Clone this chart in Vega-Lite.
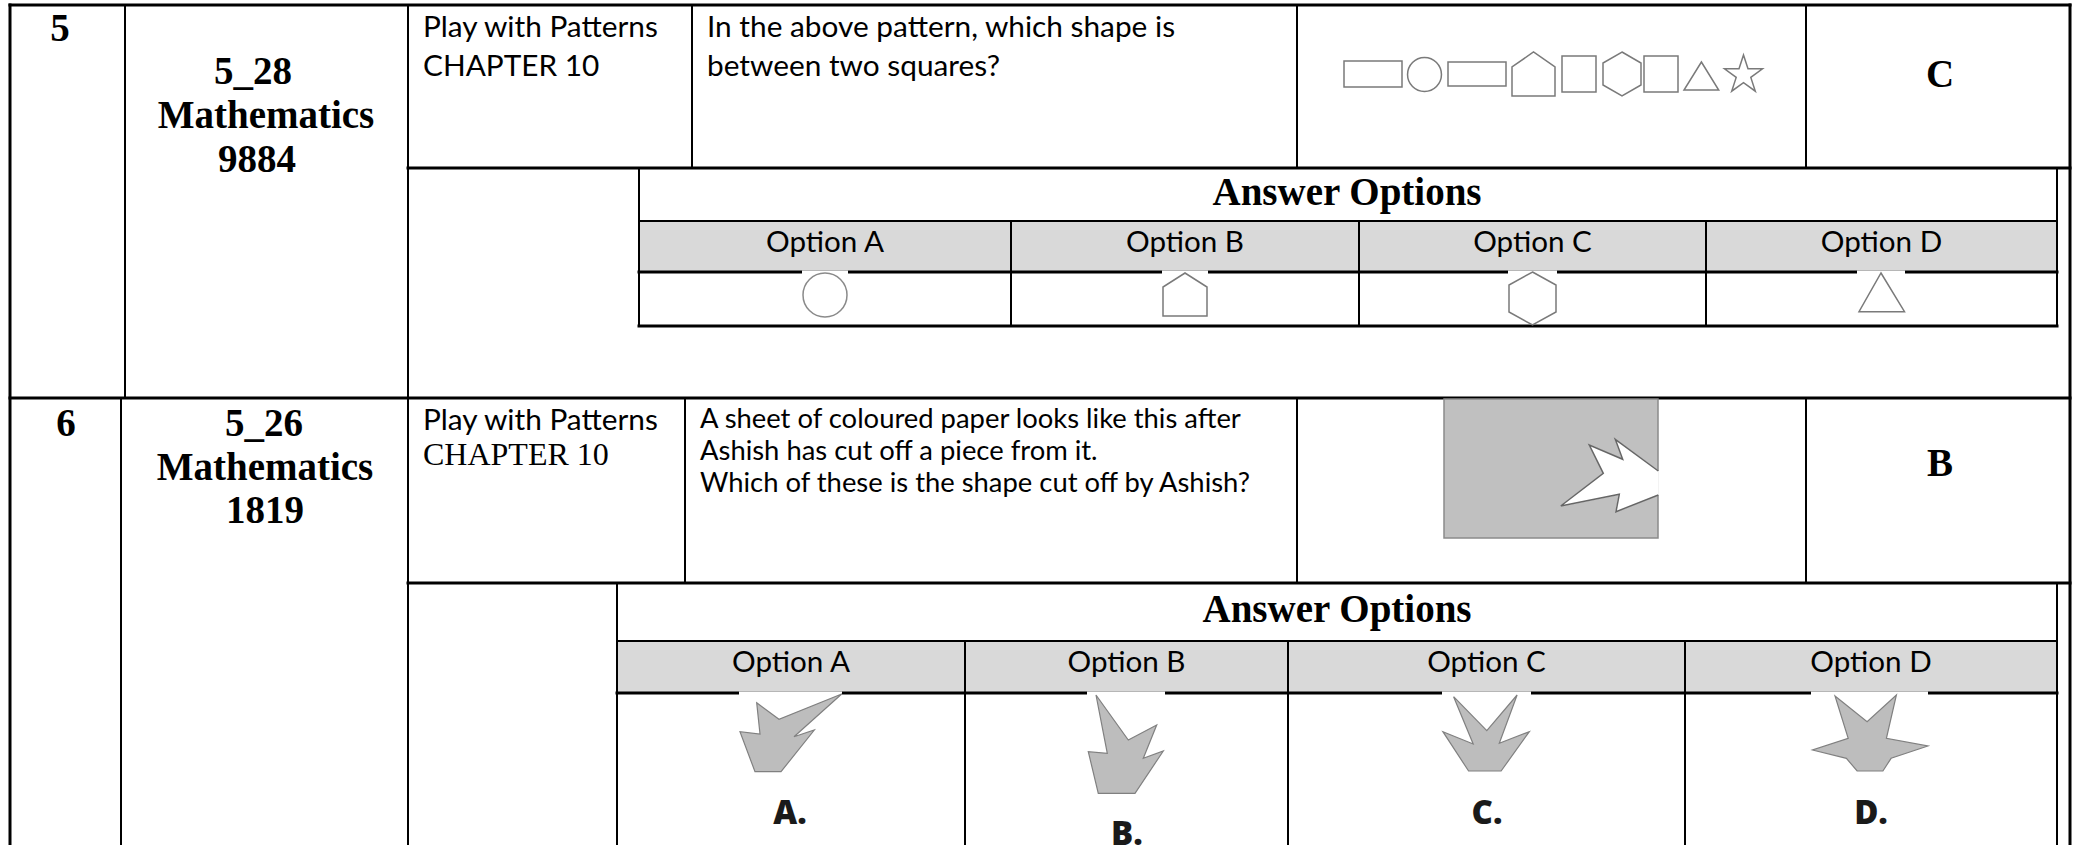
{
  "$schema": "https://vega.github.io/schema/vega-lite/v6.json",
  "width": 2077,
  "height": 845,
  "padding": 0,
  "autosize": {"type": "none"},
  "background": "white",
  "config": {"view": {"stroke": null}},
  "datasets": {
    "headerFills": [
      {"x": 639, "x2": 2057, "y": 221, "y2": 272},
      {"x": 617, "x2": 2057, "y": 641, "y2": 693}
    ],
    "gridLines": [
      {"x": 10, "x2": 2070, "y": 5, "y2": 5, "w": "heavy"},
      {"x": 10, "x2": 2070, "y": 398, "y2": 398, "w": "heavy"},
      {"x": 408, "x2": 2070, "y": 168, "y2": 168, "w": "heavy"},
      {"x": 408, "x2": 2070, "y": 583, "y2": 583, "w": "heavy"},
      {"x": 10, "x2": 10, "y": 5, "y2": 845, "w": "heavy"},
      {"x": 2070, "x2": 2070, "y": 5, "y2": 845, "w": "heavy"},
      {"x": 639, "x2": 2057, "y": 326, "y2": 326, "w": "heavy"},
      {"x": 639, "x2": 2057, "y": 272, "y2": 272, "w": "heavy"},
      {"x": 617, "x2": 2057, "y": 693, "y2": 693, "w": "heavy"},
      {"x": 125, "x2": 125, "y": 5, "y2": 398, "w": "light"},
      {"x": 121, "x2": 121, "y": 398, "y2": 845, "w": "light"},
      {"x": 408, "x2": 408, "y": 5, "y2": 845, "w": "light"},
      {"x": 692, "x2": 692, "y": 5, "y2": 168, "w": "light"},
      {"x": 685, "x2": 685, "y": 398, "y2": 583, "w": "light"},
      {"x": 1297, "x2": 1297, "y": 5, "y2": 168, "w": "light"},
      {"x": 1297, "x2": 1297, "y": 398, "y2": 583, "w": "light"},
      {"x": 1806, "x2": 1806, "y": 5, "y2": 168, "w": "light"},
      {"x": 1806, "x2": 1806, "y": 398, "y2": 583, "w": "light"},
      {"x": 639, "x2": 639, "y": 168, "y2": 326, "w": "light"},
      {"x": 2057, "x2": 2057, "y": 168, "y2": 326, "w": "light"},
      {"x": 639, "x2": 2057, "y": 221, "y2": 221, "w": "light"},
      {"x": 1011, "x2": 1011, "y": 221, "y2": 326, "w": "light"},
      {"x": 1359, "x2": 1359, "y": 221, "y2": 326, "w": "light"},
      {"x": 1706, "x2": 1706, "y": 221, "y2": 326, "w": "light"},
      {"x": 617, "x2": 617, "y": 583, "y2": 845, "w": "light"},
      {"x": 2057, "x2": 2057, "y": 583, "y2": 845, "w": "light"},
      {"x": 617, "x2": 2057, "y": 641, "y2": 641, "w": "light"},
      {"x": 965, "x2": 965, "y": 641, "y2": 845, "w": "light"},
      {"x": 1288, "x2": 1288, "y": 641, "y2": 845, "w": "light"},
      {"x": 1685, "x2": 1685, "y": 641, "y2": 845, "w": "light"}
    ],
    "imageBacks": [
      {"x": 802, "x2": 848, "y": 270.5, "y2": 300},
      {"x": 1162, "x2": 1208, "y": 270.5, "y2": 300},
      {"x": 1508, "x2": 1557, "y": 270.5, "y2": 300},
      {"x": 1857, "x2": 1905, "y": 270.5, "y2": 300},
      {"x": 739, "x2": 842, "y": 691.5, "y2": 700},
      {"x": 1087, "x2": 1165, "y": 691.5, "y2": 700},
      {"x": 1442, "x2": 1531, "y": 691.5, "y2": 700},
      {"x": 1811, "x2": 1928, "y": 691.5, "y2": 700}
    ],
    "sheet": [
      {"x": 1444, "x2": 1658, "y": 399, "y2": 538}
    ],
    "cutPiece": [
      {"seq": 1, "x": 1658.3, "y": 471},
      {"seq": 2, "x": 1615.3, "y": 439.3},
      {"seq": 3, "x": 1622.7, "y": 459.3},
      {"seq": 4, "x": 1589.3, "y": 445},
      {"seq": 5, "x": 1603.3, "y": 473.3},
      {"seq": 6, "x": 1560.7, "y": 506},
      {"seq": 7, "x": 1619.3, "y": 494.3},
      {"seq": 8, "x": 1616, "y": 511.7},
      {"seq": 9, "x": 1658.3, "y": 495}
    ],
    "patternRects": [
      {"x": 1344, "x2": 1402, "y": 61, "y2": 87},
      {"x": 1448, "x2": 1506, "y": 62, "y2": 86},
      {"x": 1562, "x2": 1596, "y": 56, "y2": 92},
      {"x": 1644, "x2": 1678, "y": 56, "y2": 92}
    ],
    "circles": [
      {"id": "pattern", "x": 1424.5, "y": 74.5},
      {"id": "optionA", "x": 825, "y": 295}
    ],
    "outlineShapes": [
      {"id": "pHouse", "seq": 1, "x": 1512, "y": 96},
      {"id": "pHouse", "seq": 2, "x": 1512, "y": 67},
      {"id": "pHouse", "seq": 3, "x": 1533.5, "y": 52},
      {"id": "pHouse", "seq": 4, "x": 1555, "y": 67},
      {"id": "pHouse", "seq": 5, "x": 1555, "y": 96},
      {"id": "pHex", "seq": 1, "x": 1622, "y": 52},
      {"id": "pHex", "seq": 2, "x": 1641, "y": 63},
      {"id": "pHex", "seq": 3, "x": 1641, "y": 85},
      {"id": "pHex", "seq": 4, "x": 1622, "y": 96},
      {"id": "pHex", "seq": 5, "x": 1603, "y": 85},
      {"id": "pHex", "seq": 6, "x": 1603, "y": 63},
      {"id": "pTri", "seq": 1, "x": 1701.4, "y": 62},
      {"id": "pTri", "seq": 2, "x": 1718.7, "y": 90},
      {"id": "pTri", "seq": 3, "x": 1684, "y": 90},
      {"id": "pStar", "seq": 1, "x": 1743.5, "y": 55},
      {"id": "pStar", "seq": 2, "x": 1748.0, "y": 68.8},
      {"id": "pStar", "seq": 3, "x": 1762.5, "y": 68.8},
      {"id": "pStar", "seq": 4, "x": 1750.8, "y": 77.4},
      {"id": "pStar", "seq": 5, "x": 1755.3, "y": 91.2},
      {"id": "pStar", "seq": 6, "x": 1743.5, "y": 82.6},
      {"id": "pStar", "seq": 7, "x": 1731.7, "y": 91.2},
      {"id": "pStar", "seq": 8, "x": 1736.2, "y": 77.4},
      {"id": "pStar", "seq": 9, "x": 1724.5, "y": 68.8},
      {"id": "pStar", "seq": 10, "x": 1739.0, "y": 68.8},
      {"id": "oHouse", "seq": 1, "x": 1185, "y": 273},
      {"id": "oHouse", "seq": 2, "x": 1207, "y": 287},
      {"id": "oHouse", "seq": 3, "x": 1207, "y": 316},
      {"id": "oHouse", "seq": 4, "x": 1163, "y": 316},
      {"id": "oHouse", "seq": 5, "x": 1163, "y": 287},
      {"id": "oHex", "seq": 1, "x": 1532.5, "y": 272},
      {"id": "oHex", "seq": 2, "x": 1556, "y": 285},
      {"id": "oHex", "seq": 3, "x": 1556, "y": 312},
      {"id": "oHex", "seq": 4, "x": 1532.5, "y": 325},
      {"id": "oHex", "seq": 5, "x": 1509, "y": 312},
      {"id": "oHex", "seq": 6, "x": 1509, "y": 285},
      {"id": "oTri", "seq": 1, "x": 1881, "y": 273},
      {"id": "oTri", "seq": 2, "x": 1904.5, "y": 311.7},
      {"id": "oTri", "seq": 3, "x": 1859, "y": 311.7}
    ],
    "solidShapes": [
      {"id": "A", "seq": 1, "x": 756.7, "y": 702.7},
      {"id": "A", "seq": 2, "x": 779, "y": 719.3},
      {"id": "A", "seq": 3, "x": 841.7, "y": 694},
      {"id": "A", "seq": 4, "x": 794, "y": 736.7},
      {"id": "A", "seq": 5, "x": 814.3, "y": 730},
      {"id": "A", "seq": 6, "x": 781, "y": 771.7},
      {"id": "A", "seq": 7, "x": 755, "y": 771.7},
      {"id": "A", "seq": 8, "x": 740, "y": 731.7},
      {"id": "A", "seq": 9, "x": 760, "y": 734},
      {"id": "B", "seq": 1, "x": 1096, "y": 695},
      {"id": "B", "seq": 2, "x": 1128.3, "y": 740},
      {"id": "B", "seq": 3, "x": 1156.7, "y": 725},
      {"id": "B", "seq": 4, "x": 1143.3, "y": 758.3},
      {"id": "B", "seq": 5, "x": 1163.3, "y": 751},
      {"id": "B", "seq": 6, "x": 1135, "y": 793.3},
      {"id": "B", "seq": 7, "x": 1098.3, "y": 793.3},
      {"id": "B", "seq": 8, "x": 1088.3, "y": 751.7},
      {"id": "B", "seq": 9, "x": 1107.3, "y": 753.3},
      {"id": "C", "seq": 1, "x": 1453.6, "y": 696.7},
      {"id": "C", "seq": 2, "x": 1486.8, "y": 730.7},
      {"id": "C", "seq": 3, "x": 1517.1, "y": 695},
      {"id": "C", "seq": 4, "x": 1499.3, "y": 743.3},
      {"id": "C", "seq": 5, "x": 1529.3, "y": 731.7},
      {"id": "C", "seq": 6, "x": 1501.1, "y": 771},
      {"id": "C", "seq": 7, "x": 1468.6, "y": 771},
      {"id": "C", "seq": 8, "x": 1442.9, "y": 731.7},
      {"id": "C", "seq": 9, "x": 1473.2, "y": 744},
      {"id": "D", "seq": 1, "x": 1835, "y": 696},
      {"id": "D", "seq": 2, "x": 1867.1, "y": 721.7},
      {"id": "D", "seq": 3, "x": 1896.4, "y": 695},
      {"id": "D", "seq": 4, "x": 1886.4, "y": 738.3},
      {"id": "D", "seq": 5, "x": 1927.9, "y": 746},
      {"id": "D", "seq": 6, "x": 1891.1, "y": 758.3},
      {"id": "D", "seq": 7, "x": 1882.9, "y": 771},
      {"id": "D", "seq": 8, "x": 1857.1, "y": 771},
      {"id": "D", "seq": 9, "x": 1846.4, "y": 758.3},
      {"id": "D", "seq": 10, "x": 1812.5, "y": 750},
      {"id": "D", "seq": 11, "x": 1848.2, "y": 738.3}
    ],
    "boldSerif": [
      {"t": "5", "x": 60, "y": 41},
      {"t": "5_28", "x": 253, "y": 84},
      {"t": "Mathematics", "x": 266, "y": 128},
      {"t": "9884", "x": 257, "y": 172},
      {"t": "C", "x": 1940, "y": 87},
      {"t": "Answer Options", "x": 1347, "y": 205},
      {"t": "6", "x": 66, "y": 436},
      {"t": "5_26", "x": 264, "y": 436},
      {"t": "Mathematics", "x": 265, "y": 480},
      {"t": "1819", "x": 265, "y": 523},
      {"t": "B", "x": 1940, "y": 476},
      {"t": "Answer Options", "x": 1337, "y": 622}
    ],
    "bodyText": [
      {"t": "Play with Patterns", "x": 423, "y": 37},
      {"t": "CHAPTER 10", "x": 423, "y": 76},
      {"t": "In the above pattern, which shape is", "x": 707, "y": 37},
      {"t": "between two squares?", "x": 707, "y": 76},
      {"t": "Play with Patterns", "x": 423, "y": 430}
    ],
    "question6": [
      {"t": "A sheet of coloured paper looks like this after", "x": 700, "y": 428},
      {"t": "Ashish has cut off a piece from it.", "x": 700, "y": 460},
      {"t": "Which of these is the shape cut off by Ashish?", "x": 700, "y": 492}
    ],
    "serifText": [
      {"t": "CHAPTER 10", "x": 423, "y": 465}
    ],
    "optionHeads": [
      {"t": "Option A", "x": 825, "y": 252},
      {"t": "Option B", "x": 1185, "y": 252},
      {"t": "Option C", "x": 1532.5, "y": 252},
      {"t": "Option D", "x": 1881.5, "y": 252},
      {"t": "Option A", "x": 791, "y": 672},
      {"t": "Option B", "x": 1126.5, "y": 672},
      {"t": "Option C", "x": 1486.5, "y": 672},
      {"t": "Option D", "x": 1871, "y": 672}
    ],
    "pieceLabels": [
      {"t": "A.", "x": 790, "y": 824},
      {"t": "B.", "x": 1127, "y": 845},
      {"t": "C.", "x": 1487, "y": 824},
      {"t": "D.", "x": 1871, "y": 824}
    ]
  },
  "layer": [
    {
      "data": {"name": "headerFills"},
      "mark": {"type": "rect", "fill": "#d9d9d9"},
      "encoding": {
        "x": {"field": "x", "type": "quantitative", "scale": {"domain": [0, 2077], "nice": false}, "axis": null},
        "x2": {"field": "x2"},
        "y": {"field": "y", "type": "quantitative", "scale": {"domain": [0, 845], "nice": false, "reverse": true}, "axis": null},
        "y2": {"field": "y2"}
      }
    },
    {
      "data": {"name": "gridLines"},
      "transform": [{"filter": "datum.w === 'light'"}],
      "mark": {"type": "rule", "color": "#000000", "strokeWidth": 2, "strokeCap": "square"},
      "encoding": {
        "x": {"field": "x", "type": "quantitative", "scale": {"domain": [0, 2077], "nice": false}, "axis": null},
        "x2": {"field": "x2"},
        "y": {"field": "y", "type": "quantitative", "scale": {"domain": [0, 845], "nice": false, "reverse": true}, "axis": null},
        "y2": {"field": "y2"}
      }
    },
    {
      "data": {"name": "gridLines"},
      "transform": [{"filter": "datum.w === 'heavy'"}],
      "mark": {"type": "rule", "color": "#000000", "strokeWidth": 3, "strokeCap": "square"},
      "encoding": {
        "x": {"field": "x", "type": "quantitative", "scale": {"domain": [0, 2077], "nice": false}, "axis": null},
        "x2": {"field": "x2"},
        "y": {"field": "y", "type": "quantitative", "scale": {"domain": [0, 845], "nice": false, "reverse": true}, "axis": null},
        "y2": {"field": "y2"}
      }
    },
    {
      "data": {"name": "imageBacks"},
      "mark": {"type": "rect", "fill": "#ffffff"},
      "encoding": {
        "x": {"field": "x", "type": "quantitative", "scale": {"domain": [0, 2077], "nice": false}, "axis": null},
        "x2": {"field": "x2"},
        "y": {"field": "y", "type": "quantitative", "scale": {"domain": [0, 845], "nice": false, "reverse": true}, "axis": null},
        "y2": {"field": "y2"}
      }
    },
    {
      "data": {"name": "sheet"},
      "mark": {"type": "rect", "fill": "#c0c0c0", "stroke": "#8a8a8a", "strokeWidth": 1.5},
      "encoding": {
        "x": {"field": "x", "type": "quantitative", "scale": {"domain": [0, 2077], "nice": false}, "axis": null},
        "x2": {"field": "x2"},
        "y": {"field": "y", "type": "quantitative", "scale": {"domain": [0, 845], "nice": false, "reverse": true}, "axis": null},
        "y2": {"field": "y2"}
      }
    },
    {
      "data": {"name": "cutPiece"},
      "mark": {"type": "line", "interpolate": "linear-closed", "fill": "#ffffff", "stroke": "#ffffff", "strokeWidth": 1},
      "encoding": {
        "x": {"field": "x", "type": "quantitative", "scale": {"domain": [0, 2077], "nice": false}, "axis": null},
        "y": {"field": "y", "type": "quantitative", "scale": {"domain": [0, 845], "nice": false, "reverse": true}, "axis": null},
        "order": {"field": "seq", "type": "quantitative"}
      }
    },
    {
      "data": {"name": "cutPiece"},
      "mark": {"type": "line", "interpolate": "linear", "stroke": "#666666", "strokeWidth": 1.5},
      "encoding": {
        "x": {"field": "x", "type": "quantitative", "scale": {"domain": [0, 2077], "nice": false}, "axis": null},
        "y": {"field": "y", "type": "quantitative", "scale": {"domain": [0, 845], "nice": false, "reverse": true}, "axis": null},
        "order": {"field": "seq", "type": "quantitative"}
      }
    },
    {
      "data": {"name": "patternRects"},
      "mark": {"type": "rect", "fill": "#ffffff", "stroke": "#7a7a7a", "strokeWidth": 1.5},
      "encoding": {
        "x": {"field": "x", "type": "quantitative", "scale": {"domain": [0, 2077], "nice": false}, "axis": null},
        "x2": {"field": "x2"},
        "y": {"field": "y", "type": "quantitative", "scale": {"domain": [0, 845], "nice": false, "reverse": true}, "axis": null},
        "y2": {"field": "y2"}
      }
    },
    {
      "data": {"name": "outlineShapes"},
      "mark": {"type": "line", "interpolate": "linear-closed", "fill": "#ffffff", "stroke": "#7a7a7a", "strokeWidth": 1.5},
      "encoding": {
        "x": {"field": "x", "type": "quantitative", "scale": {"domain": [0, 2077], "nice": false}, "axis": null},
        "y": {"field": "y", "type": "quantitative", "scale": {"domain": [0, 845], "nice": false, "reverse": true}, "axis": null},
        "detail": {"field": "id", "type": "nominal"},
        "order": {"field": "seq", "type": "quantitative"}
      }
    },
    {
      "data": {"name": "circles"},
      "transform": [{"filter": "datum.id === 'pattern'"}],
      "mark": {"type": "point", "shape": "circle", "filled": false, "size": 1150, "stroke": "#7a7a7a", "strokeWidth": 1.5, "opacity": 1},
      "encoding": {
        "x": {"field": "x", "type": "quantitative", "scale": {"domain": [0, 2077], "nice": false}, "axis": null},
        "y": {"field": "y", "type": "quantitative", "scale": {"domain": [0, 845], "nice": false, "reverse": true}, "axis": null}
      }
    },
    {
      "data": {"name": "circles"},
      "transform": [{"filter": "datum.id === 'optionA'"}],
      "mark": {"type": "point", "shape": "circle", "filled": false, "size": 1936, "stroke": "#8a8a8a", "strokeWidth": 1.5, "opacity": 1},
      "encoding": {
        "x": {"field": "x", "type": "quantitative", "scale": {"domain": [0, 2077], "nice": false}, "axis": null},
        "y": {"field": "y", "type": "quantitative", "scale": {"domain": [0, 845], "nice": false, "reverse": true}, "axis": null}
      }
    },
    {
      "data": {"name": "solidShapes"},
      "mark": {"type": "line", "interpolate": "linear-closed", "fill": "#bdbdbd", "stroke": "#808080", "strokeWidth": 1.2},
      "encoding": {
        "x": {"field": "x", "type": "quantitative", "scale": {"domain": [0, 2077], "nice": false}, "axis": null},
        "y": {"field": "y", "type": "quantitative", "scale": {"domain": [0, 845], "nice": false, "reverse": true}, "axis": null},
        "detail": {"field": "id", "type": "nominal"},
        "order": {"field": "seq", "type": "quantitative"}
      }
    },
    {
      "data": {"name": "boldSerif"},
      "mark": {"type": "text", "font": "Liberation Serif", "fontWeight": "bold", "fontSize": 39, "align": "center", "baseline": "alphabetic", "color": "#000000"},
      "encoding": {
        "x": {"field": "x", "type": "quantitative", "scale": {"domain": [0, 2077], "nice": false}, "axis": null},
        "y": {"field": "y", "type": "quantitative", "scale": {"domain": [0, 845], "nice": false, "reverse": true}, "axis": null},
        "text": {"field": "t"}
      }
    },
    {
      "data": {"name": "bodyText"},
      "mark": {"type": "text", "font": "Lato", "fontSize": 29.8, "align": "left", "baseline": "alphabetic", "color": "#000000"},
      "encoding": {
        "x": {"field": "x", "type": "quantitative", "scale": {"domain": [0, 2077], "nice": false}, "axis": null},
        "y": {"field": "y", "type": "quantitative", "scale": {"domain": [0, 845], "nice": false, "reverse": true}, "axis": null},
        "text": {"field": "t"}
      }
    },
    {
      "data": {"name": "question6"},
      "mark": {"type": "text", "font": "Lato", "fontSize": 27.4, "align": "left", "baseline": "alphabetic", "color": "#000000"},
      "encoding": {
        "x": {"field": "x", "type": "quantitative", "scale": {"domain": [0, 2077], "nice": false}, "axis": null},
        "y": {"field": "y", "type": "quantitative", "scale": {"domain": [0, 845], "nice": false, "reverse": true}, "axis": null},
        "text": {"field": "t"}
      }
    },
    {
      "data": {"name": "serifText"},
      "mark": {"type": "text", "font": "Liberation Serif", "fontSize": 32, "align": "left", "baseline": "alphabetic", "color": "#000000"},
      "encoding": {
        "x": {"field": "x", "type": "quantitative", "scale": {"domain": [0, 2077], "nice": false}, "axis": null},
        "y": {"field": "y", "type": "quantitative", "scale": {"domain": [0, 845], "nice": false, "reverse": true}, "axis": null},
        "text": {"field": "t"}
      }
    },
    {
      "data": {"name": "optionHeads"},
      "mark": {"type": "text", "font": "Lato", "fontSize": 29.6, "align": "center", "baseline": "alphabetic", "color": "#000000"},
      "encoding": {
        "x": {"field": "x", "type": "quantitative", "scale": {"domain": [0, 2077], "nice": false}, "axis": null},
        "y": {"field": "y", "type": "quantitative", "scale": {"domain": [0, 845], "nice": false, "reverse": true}, "axis": null},
        "text": {"field": "t"}
      }
    },
    {
      "data": {"name": "pieceLabels"},
      "mark": {"type": "text", "font": "Open Sans", "fontWeight": 800, "fontSize": 33, "align": "center", "baseline": "alphabetic", "color": "#1a1a1a"},
      "encoding": {
        "x": {"field": "x", "type": "quantitative", "scale": {"domain": [0, 2077], "nice": false}, "axis": null},
        "y": {"field": "y", "type": "quantitative", "scale": {"domain": [0, 845], "nice": false, "reverse": true}, "axis": null},
        "text": {"field": "t"}
      }
    }
  ]
}
